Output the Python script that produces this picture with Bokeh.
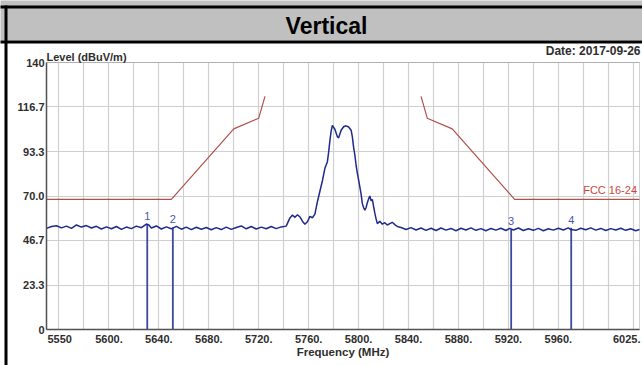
from bokeh.plotting import figure
from bokeh.models import Range1d, FixedTicker, Label, BoxAnnotation, Grid
from bokeh.core.properties import value
from bokeh.embed import file_html
from bokeh.resources import INLINE

# ---- data ----
FREQ = [5550, 5554, 5558, 5562, 5566, 5570, 5574, 5578, 5582, 5586, 5590, 5594, 5598,
        5602, 5606, 5610, 5614, 5618, 5622, 5626, 5630, 5632, 5634, 5638, 5642, 5646,
        5650, 5654, 5658, 5662, 5666, 5670, 5674, 5678, 5682, 5686, 5690, 5694, 5698,
        5702, 5706, 5710, 5714, 5718, 5722, 5726, 5730, 5734, 5738, 5742, 5745, 5747,
        5749, 5751, 5753, 5755, 5757, 5759, 5761, 5763, 5765, 5767, 5769, 5771, 5773,
        5775, 5776, 5777, 5778, 5779, 5780, 5781, 5782, 5783, 5784, 5785, 5786, 5788,
        5790, 5792, 5794, 5795, 5796, 5797, 5798, 5799, 5800, 5802, 5803, 5804, 5805,
        5806, 5807, 5808, 5809, 5810, 5811, 5812, 5813, 5814, 5815, 5817, 5819, 5821,
        5823, 5825, 5827, 5829, 5831, 5834, 5838, 5842, 5846, 5850, 5854, 5858, 5862,
        5866, 5870, 5874, 5878, 5882, 5886, 5890, 5894, 5898, 5902, 5906, 5910, 5914,
        5918, 5921, 5924, 5928, 5932, 5936, 5940, 5944, 5948, 5952, 5956, 5960, 5964,
        5968, 5970, 5974, 5978, 5982, 5986, 5990, 5994, 5998, 6002, 6006, 6010, 6014,
        6018, 6022, 6025]
LEVEL = [53.0, 54.0, 54.4, 53.3, 54.2, 53.0, 54.8, 53.7, 54.5, 53.2, 54.1, 52.7, 53.8,
         52.8, 54.0, 52.5, 53.7, 52.9, 54.2, 53.4, 55.3, 54.8, 53.2, 54.3, 52.7, 53.8,
         52.8, 54.1, 52.6, 53.7, 52.4, 53.6, 52.6, 53.5, 52.3, 53.4, 52.4, 53.7, 52.5,
         53.5, 54.3, 52.8, 54.0, 52.7, 53.7, 52.8, 54.0, 52.9, 53.8, 54.2, 58.5, 60.0,
         58.8, 60.2, 59.0, 56.8, 55.2, 56.5, 59.3, 58.6, 60.5, 67.0, 72.5, 78.0, 84.5,
         88.0, 93.0, 99.0, 104.0, 107.0, 106.0, 105.0, 103.0, 101.0, 100.5, 102.5, 104.5, 106.3,
         106.8, 106.2, 104.5, 101.0, 95.5, 91.5, 86.0, 82.0, 78.5, 71.0, 66.0, 64.0, 62.5,
         64.0, 66.5, 68.5, 70.0, 67.5, 68.2, 64.5, 61.0, 58.0, 55.5, 56.8, 55.2, 56.0,
         54.8, 55.5, 56.2, 55.0, 54.0, 53.5, 52.4, 53.4, 52.2, 53.2, 52.0, 53.1, 51.9,
         53.2, 52.1, 53.0, 51.8, 53.1, 52.2, 53.3, 52.0, 52.9, 51.8, 53.0, 52.1, 53.1,
         51.9, 53.0, 52.2, 53.2, 51.9, 52.8, 52.0, 53.0, 51.8, 52.8, 52.1, 53.1, 52.2,
         53.3, 52.4, 52.0, 53.1, 52.3, 53.3, 52.1, 53.0, 51.9, 52.9, 52.2, 53.1, 52.0,
         52.8, 51.8, 52.4]

LIMIT_LOW_FREQ = [5550, 5650, 5700, 5720, 5725]
LIMIT_LOW_LEVEL = [68.2, 68.2, 105.2, 110.8, 122.2]
LIMIT_HIGH_FREQ = [5850, 5855, 5875, 5925, 6025]
LIMIT_HIGH_LEVEL = [122.2, 110.8, 105.2, 68.2, 68.2]
LIMIT_NAME = "FCC 16-24"

MARKER_FREQ = [5630.7, 5651.2, 5922.2, 5970.3]
MARKER_LEVEL = [55.3, 53.5, 52.6, 53.3]
MARKER_LABEL = ["1", "2", "3", "4"]

X_START, X_END = 5550, 6025
Y_START, Y_END = 0, 140
Y_TICKS = [0, 23.333, 46.667, 70.0, 93.333, 116.667, 140]
Y_LABELS = ["0", "23.3", "46.7", "70.0", "93.3", "116.7", "140"]
X_TICKS = [5600, 5640, 5680, 5720, 5760, 5800, 5840, 5880, 5920, 5960]
X_LABELS = ["5600.", "5640.", "5680.", "5720.", "5760.", "5800.", "5840.", "5880.",
            "5920.", "5960."]
X_START_LABEL = "5550"
X_END_LABEL = "6025."
X_GRID = [5560, 5580, 5600, 5620, 5640, 5660, 5680, 5700, 5720, 5740, 5760, 5780,
          5800, 5820, 5840, 5860, 5880, 5900, 5920, 5940, 5960, 5980, 6000, 6020]

TITLE = "Vertical"
Y_TITLE = "Level (dBuV/m)"
X_TITLE = "Frequency (MHz)"
DATE_TEXT = "Date: 2017-09-26"

# ---- layout (page pixels) ----
W, H = 642, 365
PX_L, PX_R, PX_T, PX_B = 46, 639, 62, 329
KX = (PX_R - PX_L) / (X_END - X_START)
KY = (PX_B - PX_T) / (Y_END - Y_START)


def xd(px):
    return X_START + (px - PX_L) / KX


def yd(py):
    return Y_START + (PX_B - py) / KY


FONT = "Liberation Sans"
TXT = "#2e2e2e"

p = figure(width=W, height=H, title=None,
           x_range=Range1d(xd(0), xd(W)), y_range=Range1d(yd(H), yd(0)),
           output_backend="svg", toolbar_location=None, min_border=0)
p.min_border_left = p.min_border_right = p.min_border_top = p.min_border_bottom = 0
p.background_fill_color = "white"
p.border_fill_color = "white"
p.outline_line_color = None

# axes placed inside the canvas at the chart's origin
p.xaxis.fixed_location = Y_START
p.yaxis.fixed_location = X_START
p.xaxis.bounds = (X_START, X_END)
p.yaxis.bounds = (Y_START, Y_END)
for ax in (p.xaxis[0], p.yaxis[0]):
    ax.major_tick_in = 0
    ax.major_tick_out = 0
    ax.minor_tick_in = 0
    ax.minor_tick_out = 0
    ax.axis_line_color = "#4a4a4a"
    ax.axis_line_width = 1.5
    ax.major_label_text_font = FONT
    ax.major_label_text_font_style = "bold"
    ax.major_label_text_font_size = "11px"
    ax.major_label_text_color = TXT

p.yaxis.ticker = FixedTicker(ticks=Y_TICKS)
p.yaxis.major_label_overrides = {t: l for t, l in zip(Y_TICKS, Y_LABELS)}
p.yaxis.major_label_standoff = 2

p.xaxis.ticker = FixedTicker(ticks=X_TICKS)
p.xaxis.major_label_overrides = {t: l for t, l in zip(X_TICKS, X_LABELS)}
p.xaxis.major_label_standoff = 5
p.xaxis.axis_label = X_TITLE
p.xaxis.axis_label_text_font = FONT
p.xaxis.axis_label_text_font_style = "bold"
p.xaxis.axis_label_text_font_size = "11.5px"
p.xaxis.axis_label_text_color = TXT
p.xaxis.axis_label_standoff = 0

# grid
p.xgrid.ticker = FixedTicker(ticks=X_GRID)
p.ygrid.ticker = FixedTicker(ticks=Y_TICKS)
p.xgrid.bounds = (X_START, X_END)
p.ygrid.bounds = (Y_START, Y_END)
if "cross_bounds" in Grid.properties():
    p.xgrid.cross_bounds = (Y_START, Y_END)
    p.ygrid.cross_bounds = (X_START, X_END)
for g in (p.xgrid[0], p.ygrid[0]):
    g.grid_line_color = "#cfcfcf"
    g.grid_line_width = 1.2


def pbox(x0, x1, y0, y1, color, level="glyph", line=None):
    """Box given in page pixels (x0..x1, y0..y1 downward)."""
    return BoxAnnotation(left=xd(x0), right=xd(x1), top=yd(y0), bottom=yd(y1),
                         fill_color=color, fill_alpha=1.0 if color else 0.0,
                         line_color=line, line_alpha=1.0 if line else 0.0,
                         level=level)


# white masks outside the chart rectangle
p.add_layout(pbox(-5, PX_L - 0.5, 0, H + 5, "white"))
p.add_layout(pbox(PX_R + 0.5, W + 5, 0, H + 5, "white"))
p.add_layout(pbox(-5, W + 5, 0, PX_T - 0.5, "white"))
p.add_layout(pbox(-5, W + 5, PX_B + 0.5, H + 5, "white"))

# table header row
p.add_layout(pbox(-5, W + 5, -5, 40, "#c0c0c0"))
p.add_layout(pbox(-5, W + 5, 5, 8, "black"))
p.add_layout(pbox(-5, W + 5, 40, 43, "black"))
p.add_layout(pbox(4, 7, 5, H + 5, "black"))

# chart frame outline
p.add_layout(BoxAnnotation(left=X_START, right=X_END, bottom=Y_START, top=Y_END,
                           fill_alpha=0, line_color="#6a6a6a", line_width=1))

# limit lines
LIM_COL = "#b0504a"
p.line(LIMIT_LOW_FREQ, LIMIT_LOW_LEVEL, line_color=LIM_COL, line_width=1.2)
p.line(LIMIT_HIGH_FREQ, LIMIT_HIGH_LEVEL, line_color=LIM_COL, line_width=1.2)

# markers
MK_COL = "#3b4a9e"
p.segment(x0=MARKER_FREQ, y0=[Y_START] * len(MARKER_FREQ), x1=MARKER_FREQ, y1=MARKER_LEVEL,
          line_color=MK_COL, line_width=1.8)

# trace
p.line(FREQ, LEVEL, line_color="#1f2a8c", line_width=1.5)

p.text(x=MARKER_FREQ, y=MARKER_LEVEL, text=MARKER_LABEL, y_offset=-4,
       text_align="center", text_baseline="bottom", text_color="#4858a8",
       text_font=value(FONT), text_font_size="11px")

p.add_layout(Label(x=X_END - 2, y=LIMIT_LOW_LEVEL[0], text=LIMIT_NAME, text_align="right",
                   text_baseline="bottom", y_offset=3, text_color="#c8463e",
                   text_font=FONT, text_font_size="11px"))

p.add_layout(Label(x=X_START, y=Y_START, text=X_START_LABEL, x_offset=1, y_offset=-5,
                   text_align="left", text_baseline="top", text_color=TXT,
                   text_font=FONT, text_font_style="bold", text_font_size="11px"))
p.add_layout(Label(x=X_END, y=Y_START, text=X_END_LABEL, x_offset=1, y_offset=-5,
                   text_align="right", text_baseline="top", text_color=TXT,
                   text_font=FONT, text_font_style="bold", text_font_size="11px"))

p.add_layout(Label(x=xd(PX_L), y=yd(56), text=Y_TITLE,
                   text_align="left", text_baseline="middle", text_color=TXT,
                   text_font=FONT, text_font_style="bold", text_font_size="11px"))
p.add_layout(Label(x=xd(640), y=yd(50), text=DATE_TEXT,
                   text_align="right", text_baseline="middle", text_color=TXT,
                   text_font=FONT, text_font_style="bold", text_font_size="12px"))

p.add_layout(Label(x=xd(326), y=yd(25), text=TITLE,
                   text_align="center", text_baseline="middle", text_color="black",
                   text_font=FONT, text_font_style="bold", text_font_size="23px"))

open("out.html", "w").write(file_html(p, INLINE))
